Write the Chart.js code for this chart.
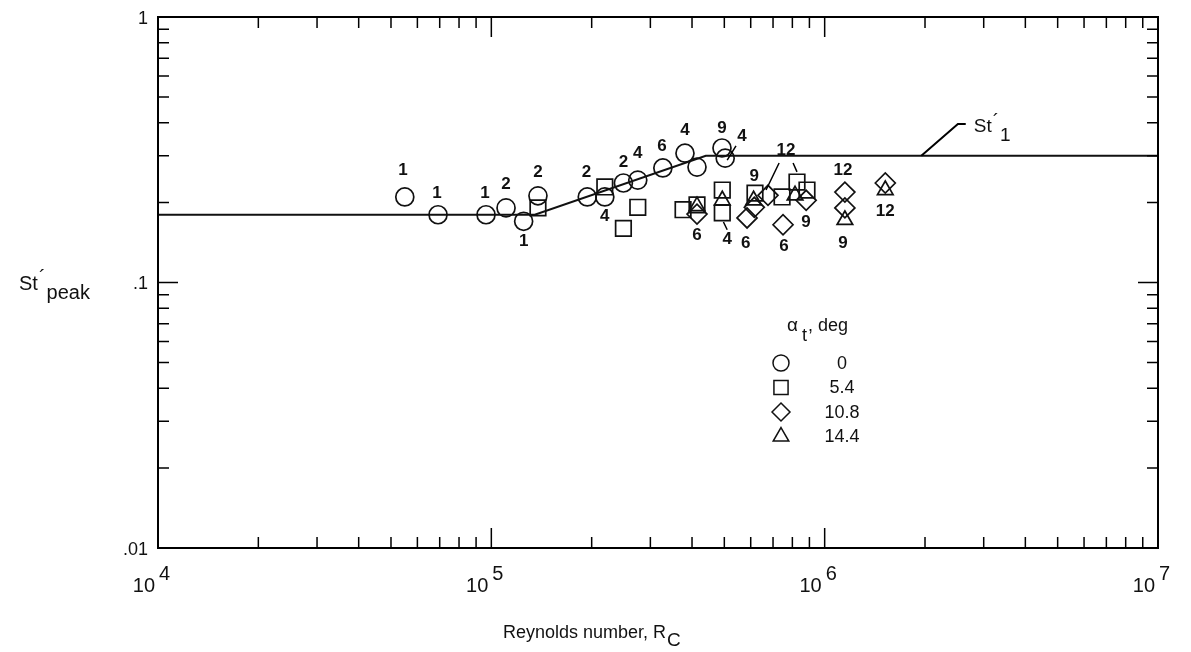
<!DOCTYPE html>
<html>
<head>
<meta charset="UTF-8">
<script src="https://cdn.jsdelivr.net/npm/chart.js@4.4.1/dist/chart.umd.min.js"></script>
<title>St'peak vs Reynolds number</title>
<style>
  body { margin: 0; background: #fff; }
  #wrap { width: 1191px; height: 652px; position: relative; }
</style>
</head>
<body>
<div id="wrap"><canvas id="plot"></canvas></div>
<script>
// alpha_t = 0 deg (circles)
const re0 = [55000, 69200, 96400, 110700, 125000, 138000, 194000, 219000, 249000, 275000, 327000, 381000, 414000, 492000, 503000];
const st0 = [0.21, 0.18, 0.18, 0.191, 0.17, 0.212, 0.21, 0.21, 0.237, 0.243, 0.27, 0.307, 0.272, 0.321, 0.294];
// alpha_t = 5.4 deg (squares)
const re54 = [138000, 219000, 249000, 275000, 376000, 414000, 493000, 493000, 618000, 745000, 826000, 885000];
const st54 = [0.191, 0.229, 0.160, 0.192, 0.188, 0.196, 0.223, 0.183, 0.217, 0.21, 0.239, 0.223];
// alpha_t = 10.8 deg (diamonds)
const re108 = [414000, 585000, 615000, 676000, 750000, 880000, 1150000, 1150000, 1520000];
const st108 = [0.181, 0.175, 0.192, 0.213, 0.165, 0.204, 0.219, 0.191, 0.237];
// alpha_t = 14.4 deg (triangles)
const re144 = [414000, 493000, 612000, 815000, 1150000, 1520000];
const st144 = [0.194, 0.204, 0.204, 0.213, 0.172, 0.223];

// St'1 curve
const reLine = [1e4, 135000, 440000, 1e7];
const stLine = [0.18, 0.18, 0.30, 0.30];

// run numbers written next to the points
const lblRe = [54300, 68700, 95700, 110700, 125000, 138000, 193000, 219000, 249000, 275000, 325000, 381000, 492000, 565000,
               414000, 510000, 580000, 615000, 766000, 755000, 879000, 1135000, 1135000, 1520000];
const lblSt = [0.265, 0.217, 0.217, 0.235, 0.143, 0.261, 0.261, 0.178, 0.284, 0.307, 0.327, 0.375, 0.382, 0.356,
               0.150, 0.145, 0.141, 0.252, 0.316, 0.137, 0.168, 0.265, 0.141, 0.186];
const lblText = ['1', '1', '1', '2', '1', '2', '2', '4', '2', '4', '6', '4', '9', '4',
                 '6', '4', '6', '9', '12', '6', '9', '12', '9', '12'];

// leader lines [re1, st1, re2, st2]
const leaders = [
  [542000, 0.327, 510000, 0.289],
  [730000, 0.282, 667000, 0.223],
  [804000, 0.282, 826000, 0.261],
  [497000, 0.169, 510000, 0.158]
];
const stLeaderRe = [1.95e6, 2.51e6, 2.65e6];
const stLeaderSt = [0.30, 0.395, 0.395];

const xTickExp = [4, 5, 6, 7];
const yTicks = [1, 0.1, 0.01];
const yTickText = ['1', '.1', '.01'];
const legendText = ['0', '5.4', '10.8', '14.4'];

function pts(xs, ys) { return xs.map((x, i) => ({ x: x, y: ys[i] })); }

const FONT = '"Liberation Sans", Arial, Helvetica, sans-serif';
const none = 'rgba(0,0,0,0)';

// writes a run of [text, font, dy, gap] pieces one after another from x
function runText(ctx, x, y, parts) {
  parts.forEach(p => {
    ctx.font = p[1];
    ctx.fillText(p[0], x, y + p[2]);
    x += ctx.measureText(p[0]).width + (p[3] || 0);
  });
}

const decor = {
  id: 'decor',
  afterDraw(chart) {
    const ctx = chart.ctx;
    const xs = chart.scales.x, ys = chart.scales.y;
    const a = chart.chartArea;
    ctx.save();
    ctx.strokeStyle = '#000';
    ctx.fillStyle = '#111';
    ctx.lineWidth = 2;
    ctx.strokeRect(a.left, a.top, a.right - a.left, a.bottom - a.top);

    // ticks pointing inward
    ctx.lineWidth = 1.5;
    ctx.beginPath();
    for (let e = 4; e < 7; e++) {
      for (let m = 1; m <= 10; m++) {
        const px = xs.getPixelForValue(m * Math.pow(10, e));
        const len = (m === 1 || m === 10) ? 20 : 11;
        if (px <= a.left + 1 || px >= a.right - 1) continue;
        ctx.moveTo(px, a.bottom); ctx.lineTo(px, a.bottom - len);
        ctx.moveTo(px, a.top); ctx.lineTo(px, a.top + len);
      }
    }
    for (let e = -2; e < 0; e++) {
      for (let m = 1; m <= 10; m++) {
        const py = ys.getPixelForValue(m * Math.pow(10, e));
        const len = (m === 1 || m === 10) ? 20 : 11;
        if (py <= a.top + 1 || py >= a.bottom - 1) continue;
        ctx.moveTo(a.left, py); ctx.lineTo(a.left + len, py);
        ctx.moveTo(a.right, py); ctx.lineTo(a.right - len, py);
      }
    }
    ctx.stroke();

    // x tick labels 10^n
    ctx.textBaseline = 'alphabetic';
    xTickExp.forEach(e => {
      const px = xs.getPixelForValue(Math.pow(10, e));
      ctx.font = '20px ' + FONT;
      ctx.textAlign = 'right';
      ctx.fillText('10', px - 3, 592);
      ctx.textAlign = 'left';
      ctx.fillText(String(e), px + 1, 580);
    });

    // y tick labels
    ctx.font = '18px ' + FONT;
    ctx.textAlign = 'right';
    ctx.textBaseline = 'middle';
    yTicks.forEach((v, i) => {
      ctx.fillText(yTickText[i], a.left - 10, ys.getPixelForValue(v) + 2);
    });

    // axis titles
    ctx.textBaseline = 'alphabetic';
    ctx.textAlign = 'left';
    runText(ctx, 503, 638, [['Reynolds number, R', '18px ' + FONT, 0, 1], ['C', '19px ' + FONT, 8]]);
    runText(ctx, 19, 290, [['St', '20px ' + FONT, 0, 1], ['\u00B4', '20px ' + FONT, -6, 1], ['peak', '20px ' + FONT, 9]]);

    // St'1 leader and text
    ctx.lineWidth = 2;
    ctx.beginPath();
    stLeaderRe.forEach((r, i) => {
      const px = xs.getPixelForValue(r), py = ys.getPixelForValue(stLeaderSt[i]);
      if (i === 0) ctx.moveTo(px, py); else ctx.lineTo(px, py);
    });
    ctx.stroke();
    const tx = xs.getPixelForValue(stLeaderRe[2]) + 8, ty = ys.getPixelForValue(stLeaderSt[2]);
    runText(ctx, tx, ty + 8, [['St', '19px ' + FONT, 0, 1], ['\u00B4', '19px ' + FONT, -5, 1], ['1', '19px ' + FONT, 9]]);

    // run-number labels
    ctx.font = 'bold 17px ' + FONT;
    ctx.textAlign = 'center';
    ctx.textBaseline = 'middle';
    lblText.forEach((t, i) => {
      ctx.fillText(t, xs.getPixelForValue(lblRe[i]), ys.getPixelForValue(lblSt[i]));
    });
    ctx.lineWidth = 1.5;
    ctx.beginPath();
    leaders.forEach(l => {
      ctx.moveTo(xs.getPixelForValue(l[0]), ys.getPixelForValue(l[1]));
      ctx.lineTo(xs.getPixelForValue(l[2]), ys.getPixelForValue(l[3]));
    });
    ctx.stroke();

    // legend
    ctx.textAlign = 'left';
    ctx.textBaseline = 'alphabetic';
    runText(ctx, 787, 331, [['\u03B1', '19px ' + FONT, 0, 4], ['t', '18px ' + FONT, 10, 1], [', deg', '18px ' + FONT, 0]]);
    ctx.textAlign = 'center';
    ctx.textBaseline = 'middle';
    ctx.font = '18px ' + FONT;
    const styles = ['circle', 'rect', 'rectRot', 'triangle'];
    const radii = [8, 10, 9, 9];
    legendText.forEach((t, i) => {
      const ly = 363 + i * 24.5;
      ctx.fillStyle = none;
      ctx.strokeStyle = '#111';
      ctx.lineWidth = 1.5;
      Chart.helpers.drawPoint(ctx, { pointStyle: styles[i], radius: radii[i], borderWidth: 1.5 }, 781, ly);
      ctx.fillStyle = '#111';
      ctx.fillText(t, 842, ly + 1);
    });
    ctx.restore();
  }
};

const marker = (label, data, style, r) => ({
  label: label,
  data: data,
  pointStyle: style,
  pointRadius: r,
  pointBorderWidth: 1.7,
  borderColor: '#111',
  backgroundColor: none,
  showLine: false
});

new Chart(document.getElementById('plot'), {
  type: 'scatter',
  data: {
    datasets: [
      {
        label: "St'1",
        data: pts(reLine, stLine),
        showLine: true,
        borderColor: '#111',
        borderWidth: 2,
        pointRadius: 0,
        backgroundColor: none
      },
      marker('0', pts(re0, st0), 'circle', 9),
      marker('5.4', pts(re54, st54), 'rect', 11),
      marker('10.8', pts(re108, st108), 'rectRot', 10),
      marker('14.4', pts(re144, st144), 'triangle', 9)
    ]
  },
  options: {
    responsive: true,
    maintainAspectRatio: false,
    animation: false,
    layout: { padding: { left: 158, right: 33, top: 17, bottom: 104 } },
    plugins: { legend: { display: false }, tooltip: { enabled: false } },
    scales: {
      x: { type: 'logarithmic', min: 1e4, max: 1e7, display: false },
      y: { type: 'logarithmic', min: 0.01, max: 1, display: false }
    }
  },
  plugins: [decor]
});
</script>
</body>
</html>
